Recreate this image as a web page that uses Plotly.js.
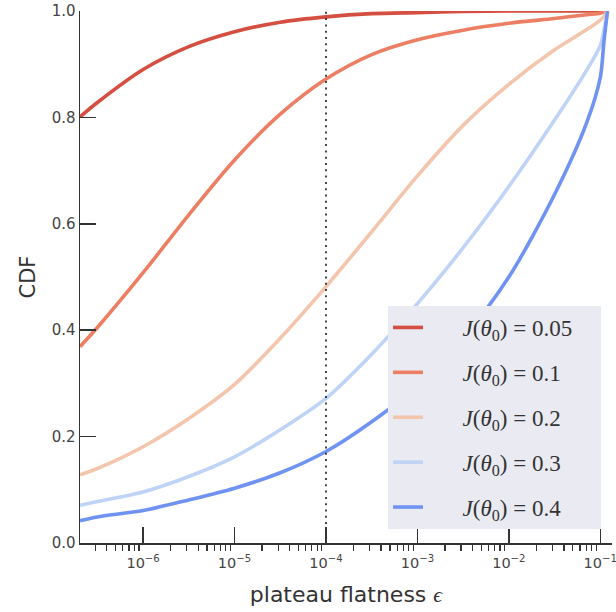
<!DOCTYPE html>
<html>
<head>
<meta charset="utf-8">
<script src="https://cdn.plot.ly/plotly-3.0.1.min.js"></script>
<style>
html,body{margin:0;padding:0;background:#fff;}
#chart{width:616px;height:612px;}
</style>
</head>
<body>
<div id="chart"></div>
<script>
// plateau flatness epsilon (x values)
const eps = [2.04e-7, 3.16e-7, 1e-6, 3.16e-6, 1e-5, 3.16e-5, 1e-4, 3.16e-4, 1e-3, 3.16e-3, 1e-2, 3.16e-2, 7.1e-2, 0.1, 0.11, 0.12];

// CDF values for each J(theta_0)
const cdf005 = [0.801, 0.828, 0.890, 0.933, 0.961, 0.979, 0.989, 0.995, 0.997, 0.999, 1.0, 1.0, 1.0, 1.0, 1.0, 1.0];
const cdf01  = [0.369, 0.405, 0.508, 0.617, 0.720, 0.806, 0.872, 0.918, 0.946, 0.964, 0.977, 0.986, 0.993, 0.996, 0.998, 1.0];
const cdf02  = [0.128, 0.140, 0.181, 0.234, 0.298, 0.385, 0.482, 0.585, 0.690, 0.785, 0.862, 0.927, 0.965, 0.983, 0.990, 1.0];
const cdf03  = [0.071, 0.078, 0.096, 0.125, 0.162, 0.213, 0.272, 0.355, 0.450, 0.555, 0.670, 0.795, 0.889, 0.935, 0.965, 1.0];
const cdf04  = [0.042, 0.049, 0.061, 0.081, 0.103, 0.132, 0.172, 0.228, 0.295, 0.385, 0.500, 0.655, 0.790, 0.875, 0.945, 1.0];

const jLabels = ["0.05", "0.1", "0.2", "0.3", "0.4"];
const seriesList = [cdf005, cdf01, cdf02, cdf03, cdf04];
const colors = ["#d44e41", "#ec7f63", "#f4c5ad", "#bfd3f6", "#7093f3"];

// vertical reference line
const threshold = 1e-4;

// axis ticks
const xMajorVals = [1e-6, 1e-5, 1e-4, 1e-3, 1e-2, 1e-1];
const xMajorText = ["10<sup>\u22126</sup>", "10<sup>\u22125</sup>", "10<sup>\u22124</sup>", "10<sup>\u22123</sup>", "10<sup>\u22122</sup>", "10<sup>\u22121</sup>"];
const yTickVals = [0, 0.2, 0.4, 0.6, 0.8, 1.0];
const yTickText = ["0.0", "0.2", "0.4", "0.6", "0.8", "1.0"];

const xMinorVals = [];
for (let e = -7; e <= -2; e++) {
  for (let m = 2; m <= 9; m++) {
    const v = m * Math.pow(10, e);
    if (v > 2.1e-7 && v < 0.13) xMinorVals.push(v);
  }
}

const xRange = [Math.log10(2.04e-7), Math.log10(0.1343)];
const pad = "\u00a0\u00a0\u00a0\u00a0\u00a0\u00a0";
const padR = "\u00a0\u00a0\u00a0\u00a0";

const traces = seriesList.map((ys, i) => ({
  type: "scatter",
  mode: "lines",
  x: eps,
  y: ys,
  name: pad + "<i>J</i>(<i>θ</i><sub>0</sub>) = " + jLabels[i] + padR,
  legendgroup: "g" + i,
  line: { color: colors[i], width: 3.6, shape: "spline", smoothing: 0.8 },
  hoverinfo: "skip"
}));

// dotted reference line at epsilon = 1e-4 (on the overlay axis that carries the major ticks)
traces.push({
  type: "scatter",
  mode: "lines",
  x: [threshold, threshold],
  y: [0, 1],
  xaxis: "x2",
  yaxis: "y",
  showlegend: false,
  line: { color: "#333333", width: 1.8, dash: "2px,4.3px" },
  hoverinfo: "skip"
});

const layout = {
  width: 616,
  height: 612,
  paper_bgcolor: "#ffffff",
  plot_bgcolor: "#ffffff",
  margin: { l: 80, r: 4, t: 11, b: 69 },
  showlegend: true,
  font: { family: "DejaVu Sans", color: "#444444" },
  xaxis: {
    type: "log",
    range: xRange,
    showgrid: false,
    zeroline: false,
    showline: true,
    linecolor: "#333333",
    linewidth: 1.5,
    ticks: "",
    tickmode: "array",
    tickvals: xMajorVals,
    ticktext: xMajorText,
    ticklabelstandoff: 6,
    ticklabeloverflow: "allow",
    tickfont: { family: "DejaVu Sans", size: 14.5, color: "#444444" },
    minor: {
      tickmode: "array",
      tickvals: xMinorVals,
      ticks: "outside",
      ticklen: 6,
      tickwidth: 1.2,
      tickcolor: "#333333",
      showgrid: false
    },
    title: {
      text: "plateau flatness <span style=\"font-family:'Liberation Serif';font-style:italic\">ϵ</span>",
      font: { family: "DejaVu Sans", size: 22, color: "#333333" },
      standoff: 16
    }
  },
  xaxis2: {
    type: "log",
    range: xRange,
    overlaying: "x",
    anchor: "y",
    side: "bottom",
    showgrid: false,
    zeroline: false,
    showline: false,
    showticklabels: false,
    ticks: "inside",
    ticklen: 16,
    tickwidth: 1.5,
    tickcolor: "#333333",
    tickmode: "array",
    tickvals: xMajorVals
  },
  yaxis: {
    range: [0, 1.0],
    showgrid: false,
    zeroline: false,
    showline: true,
    linecolor: "#333333",
    linewidth: 1.5,
    ticks: "inside",
    ticklen: 16,
    tickwidth: 1.5,
    tickcolor: "#333333",
    tickmode: "array",
    tickvals: yTickVals,
    ticktext: yTickText,
    tickfont: { family: "DejaVu Sans", size: 15, color: "#444444" },
    title: {
      text: "CDF",
      font: { family: "DejaVu Sans", size: 21, color: "#333333" },
      standoff: 10
    }
  },
  legend: {
    x: 0.579,
    y: 0.4455,
    xanchor: "left",
    yanchor: "top",
    bgcolor: "#EAEAF2",
    borderwidth: 0,
    tracegroupgap: 12,
    traceorder: "grouped",
    font: { family: "Liberation Serif", size: 23, color: "#333333" }
  }
};

Plotly.newPlot("chart", traces, layout, { displayModeBar: false, staticPlot: true });
</script>
</body>
</html>
